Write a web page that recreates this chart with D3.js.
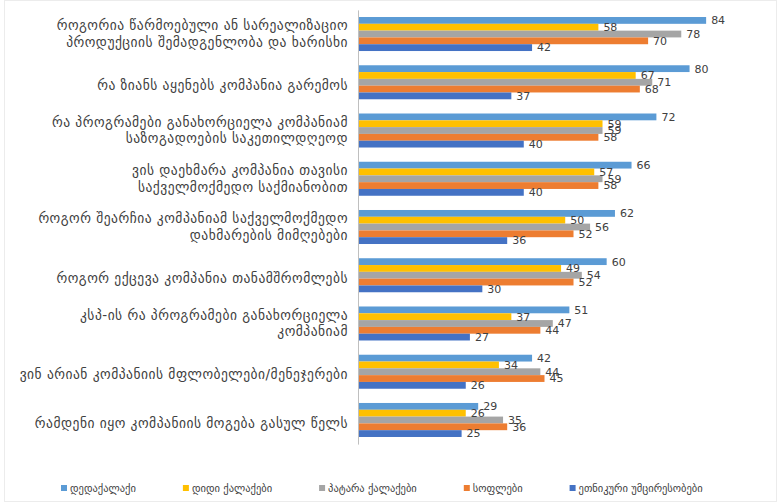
<!DOCTYPE html>
<html><head><meta charset="utf-8">
<script src="https://cdn.jsdelivr.net/npm/d3@7"></script>
<style>html,body{margin:0;padding:0;background:#fff;} svg{display:block;}</style>
</head><body><div id="chart"></div>
<script>
const categories = [
  "როგორია წარმოებული ან სარეალიზაციო\nპროდუქციის შემადგენლობა და ხარისხი",
  "რა ზიანს აყენებს კომპანია გარემოს",
  "რა პროგრამები განახორციელა კომპანიამ\nსაზოგადოების საკეთილდღეოდ",
  "ვის დაეხმარა კომპანია თავისი\nსაქველმოქმედო საქმიანობით",
  "როგორ შეარჩია კომპანიამ საქველმოქმედო\nდახმარების მიმღებები",
  "როგორ ექცევა კომპანია თანამშრომლებს",
  "კსპ-ის რა პროგრამები განახორციელა\nკომპანიამ",
  "ვინ არიან კომპანიის მფლობელები/მენეჯერები",
  "რამდენი იყო კომპანიის მოგება გასულ წელს"
];
const seriesNames = ["დედაქალაქი", "დიდი ქალაქები", "პატარა ქალაქები", "სოფლები", "ეთნიკური უმცირესობები"];
const capital   = [84, 80, 72, 66, 62, 60, 51, 42, 29];
const bigCities = [58, 67, 59, 57, 50, 49, 37, 34, 26];
const smallCities = [78, 71, 59, 59, 56, 54, 47, 44, 35];
const villages  = [70, 68, 58, 58, 52, 52, 44, 45, 36];
const minorities = [42, 37, 40, 40, 36, 30, 27, 26, 25];
const colors = ["#5B9BD5", "#FFC000", "#A5A5A5", "#ED7D31", "#4472C4"];

const seriesValues = [capital, bigCities, smallCities, villages, minorities];
const W = 778, H = 502;
const svg = d3.select("#chart").append("svg").attr("width", W).attr("height", H);
const font = "DejaVu Sans, Noto Sans, sans-serif";

svg.append("rect").attr("x", 4.5).attr("y", 0.5).attr("width", W - 6).attr("height", H - 1)
  .attr("fill", "none").attr("stroke", "#ececec");

const axisX = 358;
const x = d3.scaleLinear().domain([0, 90]).range([axisX, axisX + 373]);
const y = d3.scaleBand().domain(d3.range(categories.length)).range([9.9, 444.1]).paddingInner(0.295).paddingOuter(0.1475);
const ys = d3.scaleBand().domain(d3.range(seriesNames.length)).range([0, y.bandwidth()]);

const groups = svg.append("g").selectAll("g").data(categories).join("g")
  .attr("transform", (d, i) => `translate(0,${y(i)})`);

groups.each(function(cat, ci) {
  const g = d3.select(this);
  seriesValues.forEach((vals, si) => {
    g.append("rect")
      .attr("x", x(0)).attr("y", ys(si))
      .attr("width", x(vals[ci]) - x(0)).attr("height", ys.bandwidth())
      .attr("fill", colors[si]);
  });
  seriesValues.forEach((vals, si) => {
    g.append("text")
      .attr("x", x(vals[ci]) + 5).attr("y", ys(si) + ys.bandwidth() / 2)
      .attr("dy", "0.35em")
      .attr("font-family", font).attr("font-size", 11).attr("fill", "#404040")
      .text(vals[ci]);
  });
});

// axis line
const yAxis = d3.axisLeft(y).tickSize(0).tickFormat("");
svg.append("g").attr("transform", `translate(${axisX},0)`).call(yAxis)
  .call(g => g.select(".domain").attr("stroke", "#BFBFBF"));

// category labels
const lab = svg.append("g");
categories.forEach((c, i) => {
  const lines = c.split("\n");
  const cy = y(i) + y.bandwidth() / 2 + (lines.length === 1 ? 3 : 0);
  const t = lab.append("text").attr("x", 348).attr("text-anchor", "end")
    .attr("font-family", font).attr("font-size", 13.5).attr("letter-spacing", 0.5)
    .attr("fill", "#404040");
  lines.forEach((ln, k) => {
    t.append("tspan").attr("x", 348)
      .attr("y", cy + (k - (lines.length - 1) / 2) * 16.5)
      .attr("dy", "0.35em").text(ln);
  });
});

// legend
const leg = svg.append("g");
let lx = 61;
seriesNames.forEach((n, i) => {
  leg.append("rect").attr("x", lx).attr("y", 485).attr("width", 6).attr("height", 6).attr("fill", colors[i]);
  const t = leg.append("text").attr("x", lx + 9).attr("y", 488).attr("dy", "0.35em")
    .attr("font-family", font).attr("font-size", 10.5).attr("fill", "#404040").text(n);
  lx += 9 + t.node().getComputedTextLength() + 47;
});
</script></body></html>
